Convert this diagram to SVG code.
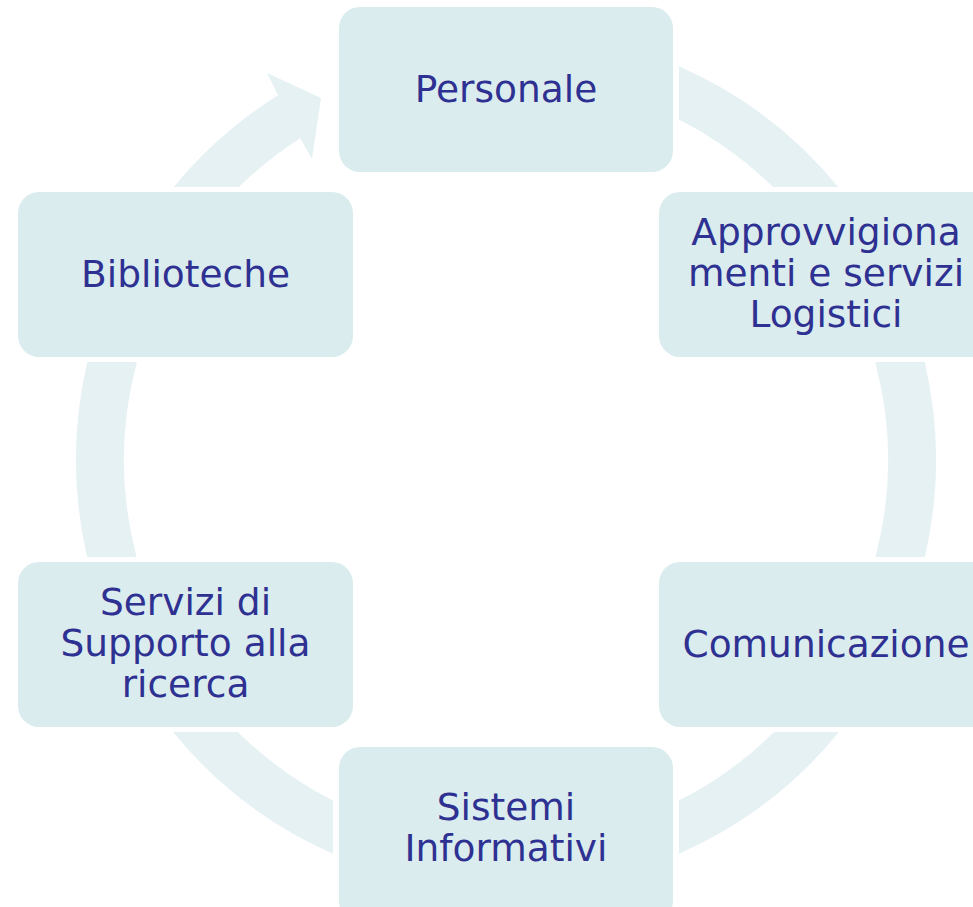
<svg xmlns="http://www.w3.org/2000/svg" width="973" height="907" viewBox="0 0 973 907">
<style>
.ring{fill:#E5F1F3;stroke:none}
.box{fill:#DAECEE;stroke:none}
.lbl{font-family:"DejaVu Sans","Verdana",sans-serif;font-size:37.5px;fill:#2E3192;text-anchor:middle}
</style>
<rect x="0" y="0" width="973" height="907" fill="#FFFFFF"/>
<g id="connectors">
<path class="ring" d="M 173.8,187 A 430 430 0 0 1 278.1,95.3 L 267,73 L 321,98 L 312,159 L 300.2,138.2 A 382 382 0 0 0 238.8,187 Z"/>
<path class="ring" d="M 679,66.3 A 430 430 0 0 1 838.2,187 L 773.2,187 A 382 382 0 0 0 679,119.4 Z"/>
<path class="ring" d="M 924.7,362 A 430 430 0 0 1 924.9,557 L 875.5,557 A 382 382 0 0 0 875.2,362 Z"/>
<path class="ring" d="M 839,732 A 430 430 0 0 1 679,853.7 L 679,800.6 A 382 382 0 0 0 774.2,732 Z"/>
<path class="ring" d="M 333,853.7 A 430 430 0 0 1 173,732 L 237.8,732 A 382 382 0 0 0 333,800.6 Z"/>
<path class="ring" d="M 87.1,557 A 430 430 0 0 1 87.3,362 L 136.8,362 A 382 382 0 0 0 136.5,557 Z"/>
</g>
<g id="personale">
<rect class="box" x="339" y="7" width="334" height="165" rx="21"/>
<text class="lbl" x="506" y="102">Personale</text>
</g>
<g id="approvvigionamenti">
<rect class="box" x="659" y="192" width="334" height="165" rx="21"/>
<text class="lbl" x="826" y="245">Approvvigiona</text>
<text class="lbl" x="826" y="286">menti e servizi</text>
<text class="lbl" x="826" y="327">Logistici</text>
</g>
<g id="comunicazione">
<rect class="box" x="659" y="562" width="334" height="165" rx="21"/>
<text class="lbl" x="826" y="657">Comunicazione</text>
</g>
<g id="sistemi">
<rect class="box" x="339" y="747" width="334" height="175" rx="21"/>
<text class="lbl" x="506" y="820">Sistemi</text>
<text class="lbl" x="506" y="861">Informativi</text>
</g>
<g id="servizi">
<rect class="box" x="18" y="562" width="335" height="165" rx="21"/>
<text class="lbl" x="185.5" y="615">Servizi di</text>
<text class="lbl" x="185.5" y="656">Supporto alla</text>
<text class="lbl" x="185.5" y="697">ricerca</text>
</g>
<g id="biblioteche">
<rect class="box" x="18" y="192" width="335" height="165" rx="21"/>
<text class="lbl" x="185.5" y="287">Biblioteche</text>
</g>
</svg>
